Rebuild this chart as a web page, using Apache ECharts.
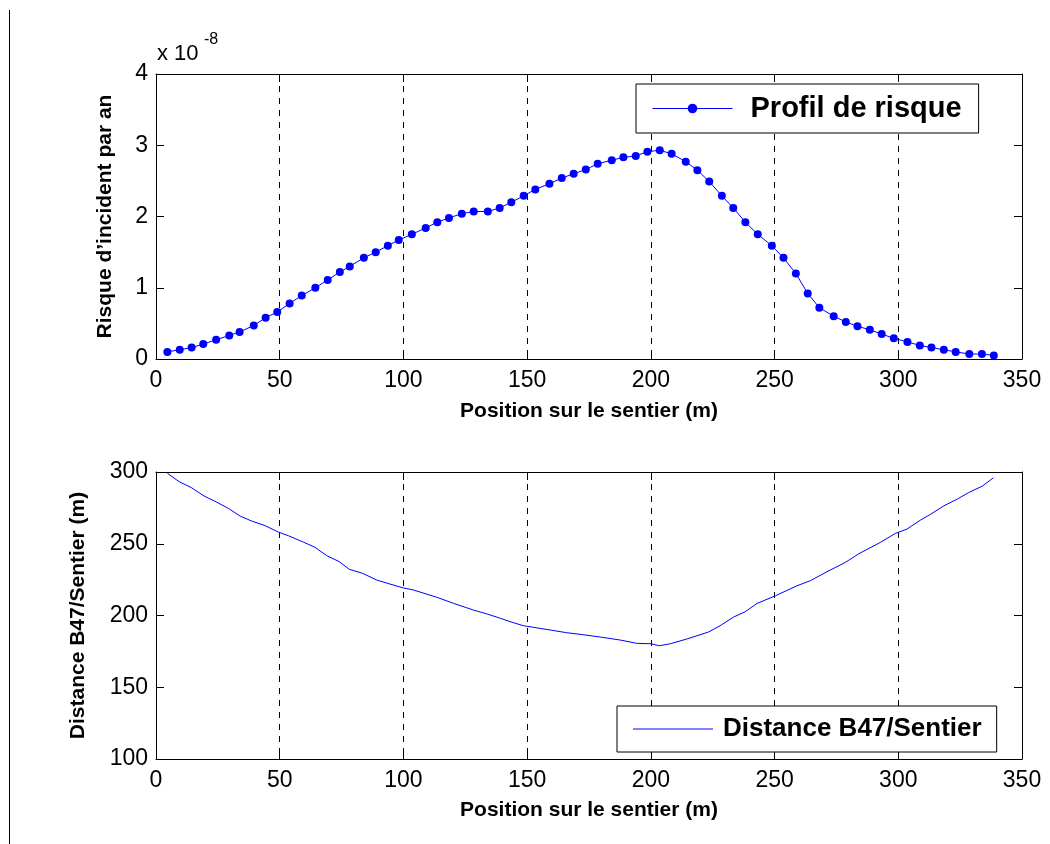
<!DOCTYPE html>
<html>
<head>
<meta charset="utf-8">
<script src="https://cdn.jsdelivr.net/npm/echarts@6/dist/echarts.min.js"></script>
<style>
html,body{margin:0;padding:0;background:#fff;}
#c{width:1050px;height:844px;}
</style>
</head>
<body>
<div id="c"></div>
<script>
// ---- data ----
const riskX = [4.6, 9.6, 14.4, 19.1, 24.3, 29.6, 33.8, 39.5, 44.3, 49.0, 54.0, 58.9, 64.4, 69.4, 74.3, 78.3, 84.0, 88.8, 93.7, 98.1, 103.4, 109.0, 113.7, 118.4,
  123.6, 128.4, 134.1, 138.9, 143.6, 148.6, 153.3, 159.0, 164.0, 168.8, 173.7, 178.5, 184.2, 188.9, 193.9, 198.6, 203.6, 208.4, 214.1, 218.8, 223.6, 228.7, 233.3,
  238.2, 243.2, 248.9, 253.6, 258.6, 263.4, 268.1, 273.9, 278.8, 283.5, 288.5, 293.3, 298.2, 303.7, 308.7, 313.4, 318.4, 323.2, 328.7, 333.8, 338.6];
const riskY = [0.10, 0.13, 0.16, 0.21, 0.27, 0.33, 0.38, 0.47, 0.58, 0.66, 0.78, 0.89, 1.00, 1.11, 1.22, 1.30, 1.42, 1.50, 1.59, 1.67, 1.75, 1.84, 1.92, 1.98,
  2.04, 2.07, 2.07, 2.12, 2.20, 2.29, 2.38, 2.46, 2.54, 2.60, 2.66, 2.74, 2.79, 2.83, 2.85, 2.91, 2.93, 2.88, 2.77, 2.65, 2.49, 2.29, 2.12,
  1.92, 1.75, 1.59, 1.42, 1.20, 0.92, 0.72, 0.60, 0.52, 0.46, 0.41, 0.35, 0.29, 0.24, 0.19, 0.16, 0.13, 0.10, 0.07, 0.07, 0.05];

const distX = [4.6, 9.4, 14.4, 19.4, 24.2, 29.2, 34.0, 38.7, 44.1, 49.4, 53.5, 59.5, 64.3, 69.0, 74.1, 78.1, 83.5, 89.2, 94.6, 100.0, 104.0, 113.5, 120.2, 128.3, 133.7, 139.1, 144.4, 148.5, 159.3, 166.0,
  171.4, 179.5, 187.6, 194.3, 200.1, 203.4, 207.8, 214.5, 223.3, 228.0, 233.4, 238.1, 242.9, 250.3, 259.0, 264.4, 271.2, 278.6, 284.0, 292.7, 298.8, 303.5, 308.9, 312.9, 318.4, 323.8, 328.5, 333.9, 338.4];
const distY = [299.1, 293.2, 289.0, 283.3, 279.3, 274.7, 269.3, 265.8, 262.6, 258.2, 255.6, 251.2, 247.5, 241.7, 237.5, 232.2, 229.4, 224.7, 221.9, 219.2, 217.8, 212.7, 208.5, 203.8, 201.1, 198.1, 195.0, 192.9, 189.9, 188.0,
  186.9, 185.0, 182.9, 180.6, 180.3, 178.9, 180.3, 183.6, 188.5, 192.9, 198.9, 202.6, 208.4, 213.7, 220.7, 224.2, 230.5, 237.0, 243.0, 250.9, 257.2, 260.2, 266.4, 270.4, 276.4, 281.1, 285.7, 290.1, 295.9];

const xTicks = [0, 50, 100, 150, 200, 250, 300, 350];
const riskTicks = [0, 1, 2, 3, 4];
const distTicks = [100, 150, 200, 250, 300];

const seriesRiskName = 'Profil de risque';
const seriesDistName = 'Distance B47/Sentier';
const xTitle = 'Position sur le sentier (m)';
const riskTitle = 'Risque d\u2019incident par an';
const distTitle = 'Distance B47/Sentier (m)';
const scaleText = 'x 10';
const scaleExp = '-8';

// ---- chart ----
const FONT = '"Liberation Sans", Arial, Helvetica, sans-serif';
const tickFont = {fontFamily: FONT, fontSize: 23, color: '#000'};
const titleFont = {fontFamily: FONT, fontSize: 21, fontWeight: 'bold', color: '#000'};
const blue = '#0000ff';

function xMain(grid, gap){
  return {
    type: 'value', gridIndex: grid, position: 'bottom',
    min: xTicks[0], max: xTicks[xTicks.length-1], interval: 50,
    name: xTitle, nameLocation: 'middle', nameGap: gap, nameTextStyle: titleFont,
    axisLine: {show: true, onZero: false, lineStyle: {color: '#000', width: 1}},
    axisTick: {show: true, inside: true, length: 8, lineStyle: {color: '#000'}},
    axisLabel: Object.assign({margin: 10}, tickFont),
    splitLine: {show: true, lineStyle: {color: '#000', type: [6, 6], width: 1}}
  };
}
function xTop(grid){
  return {
    type: 'value', gridIndex: grid, position: 'top',
    min: xTicks[0], max: xTicks[xTicks.length-1], interval: 50,
    axisLine: {show: true, onZero: false, lineStyle: {color: '#000', width: 1}},
    axisTick: {show: true, inside: true, length: 8, lineStyle: {color: '#000'}},
    axisLabel: {show: false}, splitLine: {show: false}
  };
}
function yMain(grid, ticks, name, gap){
  return {
    type: 'value', gridIndex: grid, position: 'left',
    min: ticks[0], max: ticks[ticks.length-1], interval: ticks[1]-ticks[0],
    name: name, nameLocation: 'middle', nameGap: gap, nameTextStyle: titleFont,
    axisLine: {show: true, onZero: false, lineStyle: {color: '#000', width: 1}},
    axisTick: {show: true, inside: true, length: 8, lineStyle: {color: '#000'}},
    axisLabel: Object.assign({margin: 8}, tickFont),
    splitLine: {show: false}
  };
}
function yRight(grid, ticks){
  return {
    type: 'value', gridIndex: grid, position: 'right',
    min: ticks[0], max: ticks[ticks.length-1], interval: ticks[1]-ticks[0],
    axisLine: {show: true, onZero: false, lineStyle: {color: '#000', width: 1}},
    axisTick: {show: true, inside: true, length: 8, lineStyle: {color: '#000'}},
    axisLabel: {show: false}, splitLine: {show: false}
  };
}

const chart = echarts.init(document.getElementById('c'), null, {renderer: 'canvas'});
chart.setOption({
  animation: false,
  backgroundColor: '#fff',
  grid: [
    {left: 156, width: 866, top: 74, height: 285},
    {left: 156, width: 866, top: 472, height: 287}
  ],
  xAxis: [xMain(0, 42), xTop(0), xMain(1, 41), xTop(1)],
  yAxis: [yMain(0, riskTicks, riskTitle, 40), yRight(0, riskTicks), yMain(1, distTicks, distTitle, 67), yRight(1, distTicks)],
  legend: [
    {
      data: [seriesRiskName], left: 636, top: 84,
      orient: 'horizontal', itemWidth: 80, itemHeight: 12,
      padding: [10, 17, 10, 16],
      borderColor: '#000', borderWidth: 1, backgroundColor: '#fff',
      lineStyle: {width: 1},
      textStyle: {fontFamily: FONT, fontSize: 29, fontWeight: 'bold', color: '#000', padding: [0, 0, 0, 13], lineHeight: 29},
      selectedMode: false
    },
    {
      data: [{name: seriesDistName, icon: 'rect'}], left: 617, top: 706,
      orient: 'horizontal', itemWidth: 80, itemHeight: 1.2,
      padding: [10, 15, 10, 16],
      borderColor: '#000', borderWidth: 1, backgroundColor: '#fff',
      textStyle: {fontFamily: FONT, fontSize: 26, fontWeight: 'bold', color: '#000', padding: [0, 0, 0, 5], lineHeight: 26},
      selectedMode: false
    }
  ],
  series: [
    {
      name: seriesRiskName, type: 'line', xAxisIndex: 0, yAxisIndex: 0,
      data: riskX.map((x, i) => [x, riskY[i]]),
      symbol: 'circle', symbolSize: 8, showSymbol: true,
      lineStyle: {color: blue, width: 1}, itemStyle: {color: blue},
      z: 5
    },
    {
      name: seriesDistName, type: 'line', xAxisIndex: 2, yAxisIndex: 2,
      data: distX.map((x, i) => [x, distY[i]]),
      symbol: 'none', showSymbol: false,
      lineStyle: {color: blue, width: 1}, itemStyle: {color: blue},
      z: 5
    }
  ],
  graphic: [
    {type: 'line', shape: {x1: 9.5, y1: 10, x2: 9.5, y2: 844}, style: {stroke: '#000', lineWidth: 1}},
    {type: 'text', left: 157, top: 43, style: {text: scaleText, font: '22px ' + FONT, fill: '#000'}},
    {type: 'text', left: 204, top: 32, style: {text: scaleExp, font: '16px ' + FONT, fill: '#000'}}
  ]
});
</script>
</body>
</html>
